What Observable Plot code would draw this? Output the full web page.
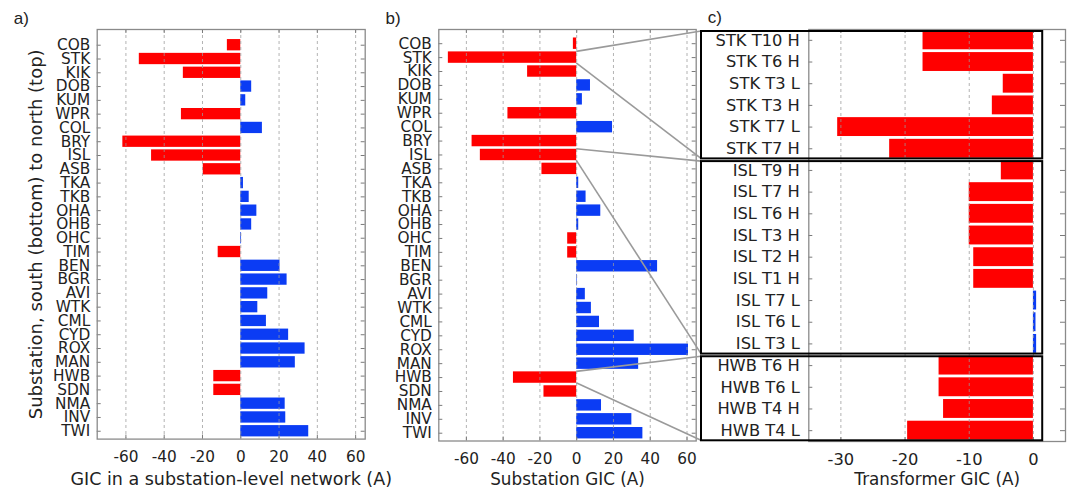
<!DOCTYPE html>
<html><head><meta charset="utf-8">
<script src="https://cdn.jsdelivr.net/npm/d3@7"></script>
<script src="https://cdn.jsdelivr.net/npm/@observablehq/plot@0.6"></script>
<style>
html,body{margin:0;padding:0;background:#fff;}
#fig{position:relative;width:1071px;height:489px;overflow:hidden;font-family:"DejaVu Sans",sans-serif;}
#fig > svg{position:absolute;top:0;}
</style></head><body><div id="fig"></div>
<script>
// ---------- data ----------
const stations = ["COB","STK","KIK","DOB","KUM","WPR","COL","BRY","ISL","ASB","TKA","TKB","OHA","OHB","OHC","TIM","BEN","BGR","AVI","WTK","CML","CYD","ROX","MAN","HWB","SDN","NMA","INV","TWI"];
const gicNetwork = [-7,-53,-30,5.7,2.6,-31,11.3,-61.6,-46.6,-19.6,1.4,4.4,8.4,5.7,0.4,-11.8,20.5,24.2,14.1,8.9,13.4,25,33.6,28.5,-14.1,-14.1,23.2,23.5,35.5];
const gicSubstation = [-1.8,-69.8,-26.7,7.5,3.1,-37.4,19.5,-56.9,-52.4,-18.9,1.1,5.1,13.1,1.1,-4.9,-4.9,44,0.3,4.7,8,12.4,31.3,60.8,33.7,-34.4,-17.8,13.5,30,36];
const transformers = ["STK T10 H","STK T6 H","STK T3 L","STK T3 H","STK T7 L","STK T7 H","ISL T9 H","ISL T7 H","ISL T6 H","ISL T3 H","ISL T2 H","ISL T1 H","ISL T7 L","ISL T6 L","ISL T3 L","HWB T6 H","HWB T6 L","HWB T4 H","HWB T4 L"];
const gicTransformer = [-17.2,-17.2,-4.7,-6.4,-30.5,-22.4,-5.0,-10,-10,-10,-9.3,-9.3,0.5,0.4,0.5,-14.7,-14.7,-14,-19.6];
const zoomGroups = ["STK","ISL","HWB"];
const ticksAB = [-60,-40,-20,0,20,40,60];
const ticksC = [-30,-20,-10,0];
const titles = ["GIC in a substation-level network (A)","Substation GIC (A)","Transformer GIC (A)"];
const yTitle = "Substation, south (bottom) to north (top)";
const panelLabels = ["a)","b)","c)"];

// ---------- style ----------
const H = 489;
const RED = "#ff0000", BLUE = "#0b3cf4";
const FRAME = "#8a8a8a", TICK = "#7a7a7a", GRID = "#9a9a9a";
const FS = 15.3;
const colorScale = {domain:["neg","pos"], range:[RED, BLUE]};
const baseStyle = {fontSize: FS+"px", fontFamily:"DejaVu Sans, sans-serif", color:"#222", background:"none", overflow:"visible"};
const fig = document.getElementById("fig");

function stationPlot({values, left, width, mL, mR, mT, mB, yDomain, title, titleDy, titleSize, withYTitle, label, labelX}) {
  const n = stations.length;
  const rows = stations.map((s,i)=>({s, v: values[i], idx: n - i}));
  const fw = width - mL - mR, fh = H - mT - mB;
  const marks = [
    Plot.rect(rows, {x1: 0, x2: "v", y1: d=>d.idx-0.41, y2: d=>d.idx+0.41, fill: d=>d.v<0?"neg":"pos"}),
    Plot.ruleX(ticksAB, {x: d=>d, stroke: GRID, strokeOpacity: 0.75, strokeDasharray: "3,3"}),
    Plot.tickY(rows, {y:"idx", insetRight: fw-4, stroke: TICK}),
    Plot.tickY(rows, {y:"idx", insetLeft: fw-4, stroke: TICK}),
    Plot.tickX(ticksAB, {x: d=>d, insetTop: fh-4, stroke: TICK}),
    Plot.tickX(ticksAB, {x: d=>d, insetBottom: fh-4, stroke: TICK}),
    Plot.frame({stroke: FRAME, strokeWidth: 1.3}),
    Plot.axisY({ticks: rows.map(d=>d.idx), tickFormat: i=>stations[n-i], tickSize: 0, tickPadding: 7, label: null, fontSize: FS}),
    Plot.axisX({ticks: ticksAB, tickFormat: d=>String(d), tickSize: 0, tickPadding: 12.5, label: null, fontSize: FS}),
    Plot.text([title], {text: d=>d, frameAnchor: "bottom", dy: titleDy, lineAnchor: "bottom", fontSize: titleSize}),
    Plot.text([label], {text: d=>d, frameAnchor: "top-left", dx: labelX - left - mL, dy: -6, lineAnchor: "bottom", textAnchor: "start", fontSize: 17, fontFamily: "Liberation Sans, Arial, sans-serif"})
  ];
  if (withYTitle) marks.push(Plot.text([yTitle], {text: d=>d, frameAnchor: "left", rotate: -90, dx: 42 - mL, lineAnchor: "bottom", textAnchor: "middle", fontSize: 18}));
  const p = Plot.plot({
    width, height: H, marginLeft: mL, marginRight: mR, marginTop: mT, marginBottom: mB,
    x: {domain: [-75, 65]}, y: {domain: yDomain},
    color: colorScale, style: baseStyle, marks
  });
  p.style.left = left + "px";
  fig.appendChild(p);
  return p;
}

const pa = stationPlot({values: gicNetwork, left: 0, width: 380, mL: 96.7, mR: 15.3, mT: 29, mB: 50.4, yDomain: [0.43, 30.14], title: titles[0], titleDy: 46, titleSize: 17.5, withYTitle: true, label: panelLabels[0], labelX: 13.3});
const pb = stationPlot({values: gicSubstation, left: 380, width: 320, mL: 58.3, mR: 4.3, mT: 29, mB: 48.5, yDomain: [0.44, 30.02], title: titles[1], titleDy: 44, titleSize: 16.8, withYTitle: false, label: panelLabels[1], labelX: 385});

// panel c
const cLeft = 700, cW = 371, cML = 108.3, cMR = 6, cMT = 29, cMB = 48;
const FSC = 16.3;
const rowsC = transformers.map((t,i)=>({t, v: gicTransformer[i]}));
const cFW = cW - cML - cMR, cFH = H - cMT - cMB;
const pc = Plot.plot({
  width: cW, height: H, marginLeft: cML, marginRight: cMR, marginTop: cMT, marginBottom: cMB,
  x: {domain: [-35, 5]}, y: {domain: transformers, padding: 0, round: false},
  color: colorScale, style: baseStyle,
  marks: [
    Plot.barX(rowsC, {x1: 0, x2: "v", y: "t", fill: d=>d.v<0?"neg":"pos", insetTop: 1.4, insetBottom: 1.4}),
    Plot.ruleX(ticksC, {x: d=>d, stroke: GRID, strokeOpacity: 0.75, strokeDasharray: "3,3"}),
    Plot.tickY(rowsC, {y:"t", insetRight: cFW-4, stroke: TICK}),
    Plot.tickY(rowsC, {y:"t", insetLeft: cFW-5, stroke: TICK}),
    Plot.tickX(ticksC, {x: d=>d, insetTop: cFH-4, stroke: TICK}),
    Plot.tickX(ticksC, {x: d=>d, insetBottom: cFH-4, stroke: TICK}),
    Plot.frame({stroke: FRAME, strokeWidth: 1.3}),
    Plot.axisY({tickSize: 0, tickPadding: 9, label: null, fontSize: FSC}),
    Plot.axisX({ticks: ticksC, tickFormat: d=>String(d), tickSize: 0, tickPadding: 11.5, label: null, fontSize: FSC}),
    Plot.text([titles[2]], {text: d=>d, frameAnchor: "bottom", dy: 43.5, lineAnchor: "bottom", fontSize: 16.8}),
    Plot.text([panelLabels[2]], {text: d=>d, frameAnchor: "top-left", dx: 707.3 - cLeft - cML, dy: -7, lineAnchor: "bottom", textAnchor: "start", fontSize: 17, fontFamily: "Liberation Sans, Arial, sans-serif"})
  ]
});
pc.style.left = cLeft + "px";
fig.appendChild(pc);

// ---------- overlay: zoom boxes and connectors ----------
const bx = pb.scale("x"), by = pb.scale("y");
const cx = pc.scale("x"), cy = pc.scale("y");
const [r0, r1] = cy.range;
const step = (r1 - r0) / transformers.length;
const ov = d3.select(fig).append("svg").attr("width", 1071).attr("height", H)
  .style("position","absolute").style("left","0px").style("top","0px").style("pointer-events","none");
const nS = stations.length;
zoomGroups.forEach((g) => {
  const idxs = transformers.map((t,i)=>t.startsWith(g+" ")?i:-1).filter(i=>i>=0);
  const top = r0 + idxs[0]*step + 2;
  const bottom = r0 + (idxs[idxs.length-1]+1)*step - 0.7;
  const xL = cLeft + 1, xR = cLeft + cx.apply(1.45);
  const si = stations.indexOf(g);
  const idx = nS - si;
  const x0 = 380 + bx.apply(0);
  const yT = by.apply(idx + 0.41), yB = by.apply(idx - 0.41);
  ov.append("line").attr("x1", x0).attr("y1", yT).attr("x2", xL).attr("y2", top)
    .attr("stroke", "#9a9a9a").attr("stroke-width", 1.6);
  ov.append("line").attr("x1", x0).attr("y1", yB).attr("x2", xL).attr("y2", bottom)
    .attr("stroke", "#9a9a9a").attr("stroke-width", 1.6);
  ov.append("rect").attr("x", xL).attr("y", top).attr("width", xR - xL).attr("height", bottom - top)
    .attr("fill", "none").attr("stroke", "#000").attr("stroke-width", 2);
});
</script></body></html>
